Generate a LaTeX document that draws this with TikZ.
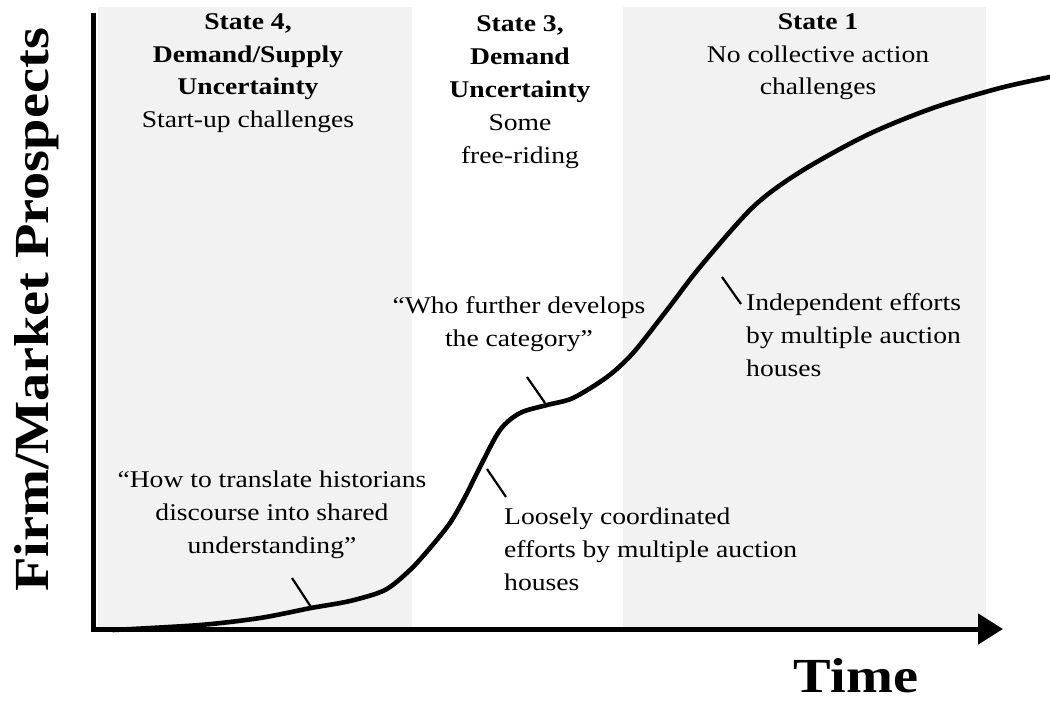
\documentclass[tikz,border=0pt]{standalone}
\usepackage{fontspec}
\setmainfont[FakeStretch=1.15]{Liberation Serif}
\usetikzlibrary{arrows.meta}
\definecolor{bandgray}{RGB}{242,242,242}
\tikzset{
  label text/.style = {font = \fontsize{24}{33}\selectfont, inner sep = 0pt, anchor = base},
  axis label/.style = {font = \fontsize{49}{56}\selectfont\bfseries, inner sep = 0pt, anchor = base},
  tick line/.style = {line width = 2.2pt},
  growth curve/.style = {line width = 4.6pt, line cap = round, line join = round}
}
\begin{document}
\begin{tikzpicture}[x = 1pt, y = -1pt]
  \useasboundingbox (0, 0) rectangle (1050, 701);
  % the shaded states
  \fill[bandgray] (98, 7) rectangle (412, 628);
  \fill[bandgray] (623, 7) rectangle (986, 628);
  % axes
  \coordinate (ytop) at (93, 13);
  \coordinate (xend) at (1003, 629);
  \draw[line width = 5pt, -{Triangle[length = 25pt, width = 30pt]}] (ytop) |- (xend);
  \node[axis label, rotate = 90] (yname) at (48, 310) {Firm/Market Prospects};
  \node[axis label] (xname) at (856, 692) {Time};
  % the curve
  \draw[growth curve] plot[smooth, tension = 0.5] coordinates {
    (113, 630) (200, 625) (260, 618) (311, 608) (350, 601) (385, 590) (410, 570)
    (430, 548) (450, 523) (465, 497) (480, 467) (500, 430) (520, 413) (547, 405)
    (573, 398) (607, 377) (633, 353) (667, 310) (700, 267) (753, 207)
    (800, 172) (867, 135) (933, 108) (1000, 88) (1050, 77)};
  % state headings (anchored on their last line)
  \node[label text, align = center] (state4) at (248, 128)
    {\textbf{State 4,}\\\textbf{Demand/Supply}\\\textbf{Uncertainty}\\Start-up challenges};
  \node[label text, align = center] (state3) at (520, 163)
    {\textbf{State 3,}\\\textbf{Demand}\\\textbf{Uncertainty}\\Some\\free-riding};
  \node[label text, align = center] (state1) at (818, 95)
    {\textbf{State 1}\\No collective action\\challenges};
  % remarks along the curve
  \node[label text, align = center] (howto) at (272, 553)
    {“How to translate historians\\discourse into shared\\understanding”};
  \node[label text, align = center] (whofurther) at (519, 346)
    {“Who further develops\\the category”};
  \node[label text, align = left, anchor = base west] (loosely) at (504, 590)
    {Loosely coordinated\\efforts by multiple auction\\houses};
  \node[label text, align = left, anchor = base west] (independent) at (746, 376)
    {Independent efforts\\by multiple auction\\houses};
  \foreach \name/\ax/\ay/\bx/\by in {howto/292/578/311/607, whofurther/527/377/545/403,
      loosely/487/469/506/497, independent/722/277/741/304} {
    \coordinate (\name a) at (\ax, \ay);
    \coordinate (\name b) at (\bx, \by);
    \draw[tick line] (\name a) -- (\name b);
  }
\end{tikzpicture}
\end{document}
